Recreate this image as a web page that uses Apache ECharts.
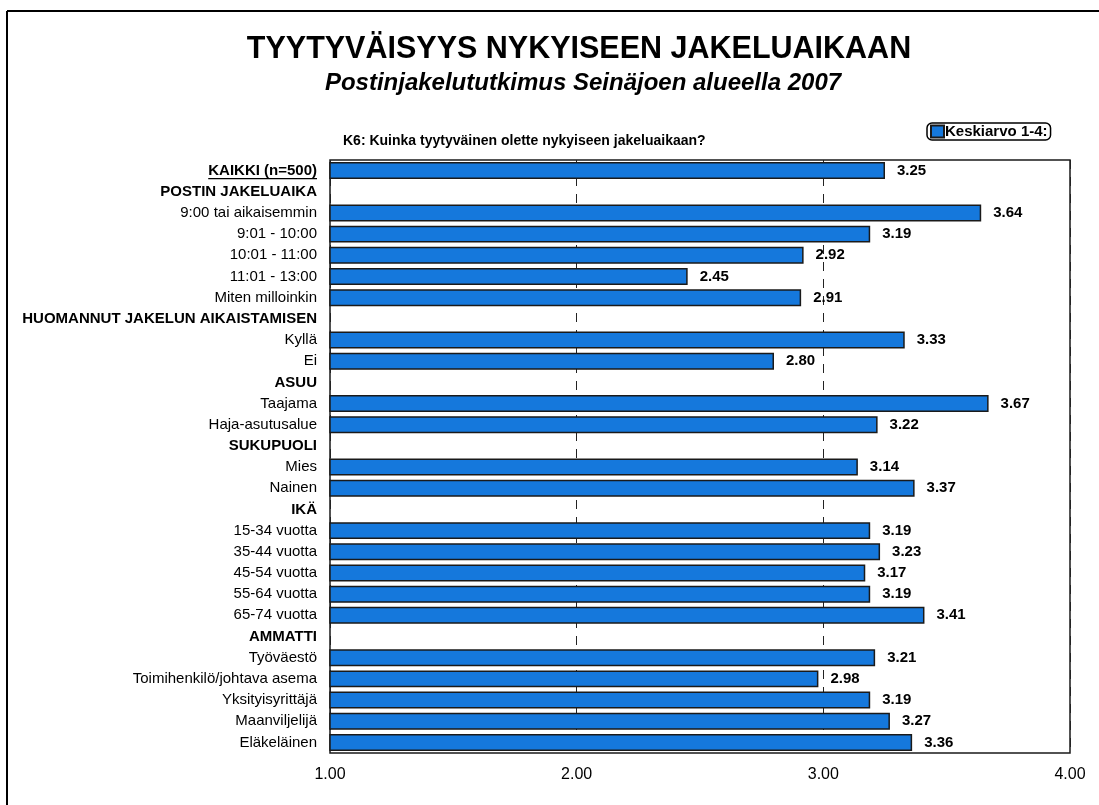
<!DOCTYPE html>
<html>
<head>
<meta charset="utf-8">
<title>Tyytyväisyys nykyiseen jakeluaikaan</title>
<script src="https://cdn.jsdelivr.net/npm/echarts@6/dist/echarts.min.js"></script>
<style>
html,body{margin:0;padding:0;background:#fff;}
#mybox{width:1099px;height:805px;}
</style>
</head>
<body>
<div id="mybox"></div>
<script>
/* K6 keskiarvot */
// rivit ylhäältä alas
var categories = [
    'KAIKKI (n=500)',
    'POSTIN JAKELUAIKA',
    '9:00 tai aikaisemmin',
    '9:01 - 10:00',
    '10:01 - 11:00',
    '11:01 - 13:00',
    'Miten milloinkin',
    'HUOMANNUT JAKELUN AIKAISTAMISEN',
    'Kyllä',
    'Ei',
    'ASUU',
    'Taajama',
    'Haja-asutusalue',
    'SUKUPUOLI',
    'Mies',
    'Nainen',
    'IKÄ',
    '15-34 vuotta',
    '35-44 vuotta',
    '45-54 vuotta',
    '55-64 vuotta',
    '65-74 vuotta',
    'AMMATTI',
    'Työväestö',
    'Toimihenkilö/johtava asema',
    'Yksityisyrittäjä',
    'Maanviljelijä',
    'Eläkeläinen'
];
// väliotsikot (ei palkkia)
var headerRows = ['POSTIN JAKELUAIKA', 'HUOMANNUT JAKELUN AIKAISTAMISEN', 'ASUU', 'SUKUPUOLI', 'IKÄ', 'AMMATTI'];
// keskiarvo 1-4
var keskiarvot = [
    3.25, null, 3.64, 3.19, 2.92, 2.45, 2.91, null, 3.33, 2.80,
    null, 3.67, 3.22, null, 3.14, 3.37, null, 3.19, 3.23, 3.17,
    3.19, 3.41, null, 3.21, 2.98, 3.19, 3.27, 3.36
];
var seriesName = 'Keskiarvo 1-4:';
var xMin = 1, xMax = 4, xStep = 1;

var FONT = '"Liberation Sans", Arial, sans-serif';
var gridLeft = 330, labelMargin = 13;

var mycharts = echarts.init(document.getElementById('mybox'), null, {renderer: 'canvas'});

var option = {
    backgroundColor: '#fff',
    animation: false,
    title: [
        {
            text: 'TYYTYVÄISYYS NYKYISEEN JAKELUAIKAAN',
            left: 574, top: 29, textAlign: 'center',
            textStyle: {fontFamily: FONT, fontSize: 30.5, fontWeight: 'bold', color: '#000'}
        },
        {
            text: 'Postinjakelututkimus Seinäjoen alueella 2007',
            left: 578, top: 66, textAlign: 'center',
            textStyle: {fontFamily: FONT, fontSize: 24, fontWeight: 'bold', fontStyle: 'italic', color: '#000'}
        }
    ],
    legend: {
        left: 927, top: 123,
        padding: [1, 3, 1, 3],
        itemWidth: 13, itemHeight: 12,
        borderColor: '#000', borderWidth: 1.5, borderRadius: 5,
        textStyle: {fontFamily: FONT, fontSize: 15, fontWeight: 'bold', color: '#000', padding: [0, 0, 0, -4]},
        data: [{name: seriesName, icon: 'rect'}]
    },
    grid: {
        show: true,
        left: gridLeft, right: 29, top: 160, bottom: 52,
        borderColor: '#1a1a1a', borderWidth: 1.5,
        backgroundColor: '#fff',
        outerBoundsMode: 'none'
    },
    xAxis: {
        type: 'value',
        min: xMin, max: xMax, interval: xStep,
        axisLine: {show: false},
        axisTick: {show: false},
        axisLabel: {
            fontFamily: FONT, fontSize: 16, color: '#000', margin: 14,
            formatter: function (v) { return v.toFixed(2); }
        },
        splitLine: {show: true, lineStyle: {color: '#222', width: 1, type: [9, 8]}}
    },
    yAxis: {
        type: 'category',
        inverse: true,
        data: categories,
        axisLine: {show: false},
        axisTick: {show: false},
        axisLabel: {
            fontFamily: FONT, fontSize: 15, color: '#000', margin: labelMargin,
            interval: 0,
            formatter: function (v, i) {
                if (i === 0 || headerRows.indexOf(v) >= 0) return '{h|' + v + '}';
                return v;
            },
            rich: {h: {fontFamily: FONT, fontSize: 15, fontWeight: 'bold', color: '#000'}}
        }
    },
    series: [
        {
            name: seriesName,
            type: 'bar',
            data: keskiarvot,
            barCategoryGap: '20%',
            itemStyle: {color: '#1578dc', borderColor: '#1a1a1a', borderWidth: 1.5},
            label: {
                show: true, position: 'right', distance: 12,
                fontFamily: FONT, fontSize: 15, fontWeight: 'bold', color: '#000',
                formatter: function (p) { return p.value == null ? '' : p.value.toFixed(2); }
            }
        }
    ],
    graphic: [
        // kehys
        {type: 'line', shape: {x1: 7, y1: 11, x2: 1099, y2: 11}, style: {stroke: '#000', lineWidth: 2}},
        {type: 'line', shape: {x1: 7, y1: 11, x2: 7, y2: 805}, style: {stroke: '#000', lineWidth: 2}},
        // kysymys
        {
            type: 'text', left: 343, top: 134,
            style: {text: 'K6: Kuinka tyytyväinen olette nykyiseen jakeluaikaan?', font: 'bold 14px ' + FONT, fill: '#000'}
        }
    ]
};
mycharts.setOption(option);

// KAIKKI-rivin alleviivaus
var y0 = mycharts.convertToPixel({yAxisIndex: 0}, categories[0]);
var ctx = document.createElement('canvas').getContext('2d');
ctx.font = 'bold 15px ' + FONT;
var w0 = ctx.measureText(categories[0]).width;
var xr = gridLeft - labelMargin;
option.graphic.push({
    type: 'line',
    shape: {x1: xr - w0, y1: y0 + 8, x2: xr, y2: y0 + 8},
    style: {stroke: '#000', lineWidth: 1.3}
});
mycharts.setOption({graphic: option.graphic});
</script>
</body>
</html>
